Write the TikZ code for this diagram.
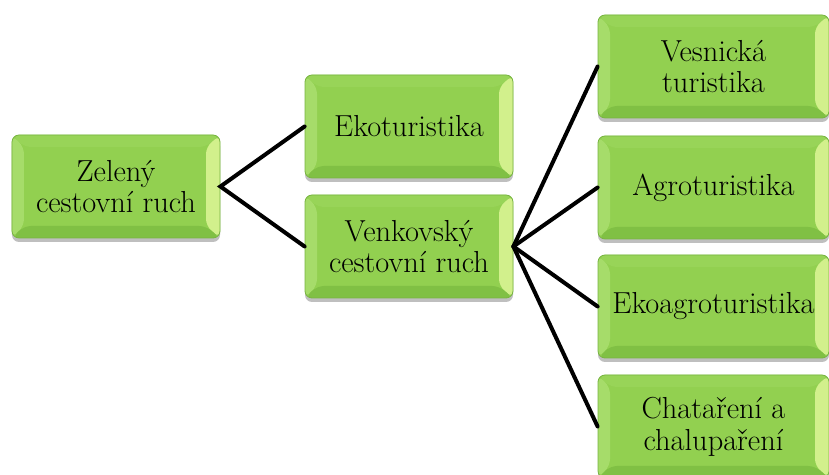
\documentclass[tikz,border=0pt]{standalone}
\usepackage{fontspec}
\usetikzlibrary{shadows}
\definecolor{boxgreen}{RGB}{146,208,80}
\definecolor{boxrim}{RGB}{120,180,66}
\definecolor{bevleft}{RGB}{166,220,106}
\definecolor{bevtop}{RGB}{152,212,88}
\definecolor{bevright}{RGB}{210,240,140}
\definecolor{bevbottom}{RGB}{128,192,68}
\def\bw{12}
\def\ppbb{path picture bounding box}
\tikzset{
  tbox/.style={draw=boxrim, line width=0.8bp, fill=boxgreen, rounded corners=7bp,
    minimum width=208bp, minimum height=103bp, align=center, inner sep=0pt,
    font=\fontsize{30.5}{32}\selectfont,
    drop shadow={shadow xshift=0bp, shadow yshift=-4bp, opacity=0.25, fill=black},
    path picture={
      \fill[bevleft] (\ppbb.south west) -- (\ppbb.north west) -- ([shift={(\bw,-\bw)}]\ppbb.north west) -- ([shift={(\bw,\bw)}]\ppbb.south west) -- cycle;
      \fill[bevtop] (\ppbb.north west) -- (\ppbb.north east) -- ([shift={(-\bw-2,-\bw)}]\ppbb.north east) -- ([shift={(\bw,-\bw)}]\ppbb.north west) -- cycle;
      \fill[bevright] (\ppbb.north east) -- (\ppbb.south east) -- ([shift={(-\bw-2,\bw)}]\ppbb.south east) -- ([shift={(-\bw-2,-\bw)}]\ppbb.north east) -- cycle;
      \fill[bevbottom] (\ppbb.south west) -- (\ppbb.south east) -- ([shift={(-\bw-2,\bw)}]\ppbb.south east) -- ([shift={(\bw,\bw)}]\ppbb.south west) -- cycle;
    }},
  wide/.style={minimum width=231bp},
  link/.style={line width=4bp, line cap=round, black}
}
\begin{document}
\begin{tikzpicture}[x=1bp, y=1bp]
  \useasboundingbox (0,0) rectangle (829,475);
  \clip (0,0) rectangle (829,475);

  % Root
  \node[tbox] (zeleny) at (116,288.5) {Zelený\\cestovní ruch};

  % Second level
  \node[tbox] (eko) at (409,348.5) {Ekoturistika};
  \node[tbox] (venk) at (409,228.5) {Venkovský\\cestovní ruch};

  % Third level
  \node[tbox, wide] (vesn) at (713.5,408.5) {Vesnická\\turistika};
  \node[tbox, wide] (agro) at (713.5,287.5) {Agroturistika};
  \node[tbox, wide] (ekoagro) at (713.5,168.5) {Ekoagroturistika};
  \node[tbox, wide] (chata) at (713.5,48.5) {Chataření a\\chalupaření};

  % Links
  \draw[link] (eko.west) -- (zeleny.east) -- (venk.west);
  \foreach \t in {vesn, agro, ekoagro, chata}
    \draw[link] (venk.east) -- (\t.west);
\end{tikzpicture}
\end{document}
